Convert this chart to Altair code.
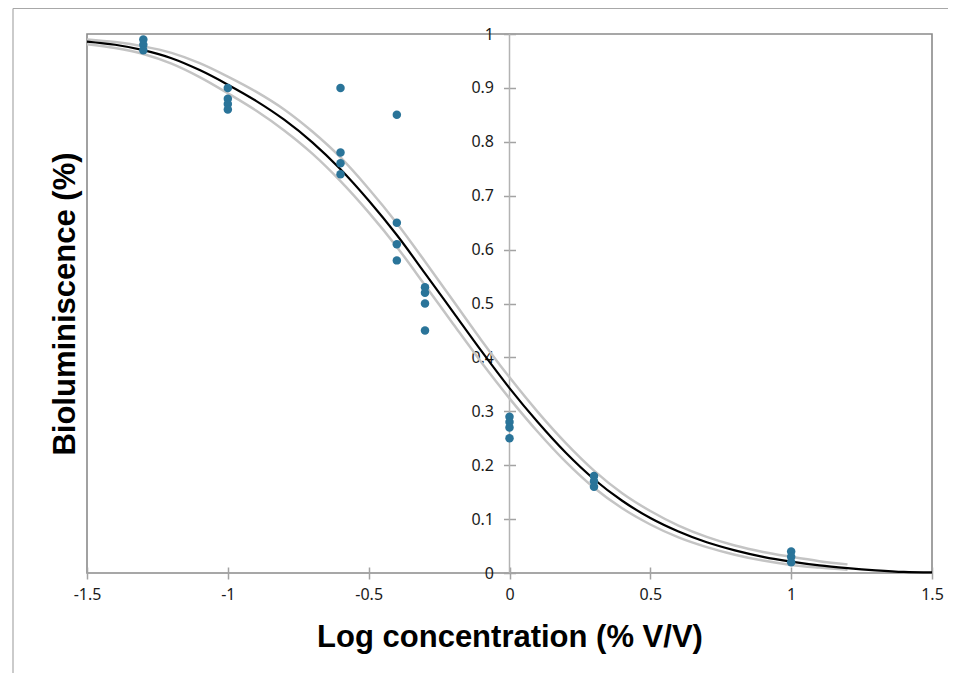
import altair as alt
import pandas as pd

# Observed bioluminescence values (fraction) at each log concentration
obs_x = [-1.3, -1.3, -1.3,
         -1.0, -1.0, -1.0, -1.0,
         -0.6, -0.6, -0.6, -0.6,
         -0.4, -0.4, -0.4, -0.4,
         -0.3, -0.3, -0.3, -0.3,
         0.0, 0.0, 0.0, 0.0,
         0.3, 0.3, 0.3,
         1.0, 1.0, 1.0]
obs_y = [0.99, 0.98, 0.97,
         0.90, 0.88, 0.87, 0.86,
         0.90, 0.78, 0.76, 0.74,
         0.85, 0.65, 0.61, 0.58,
         0.53, 0.52, 0.50, 0.45,
         0.29, 0.28, 0.27, 0.25,
         0.18, 0.17, 0.16,
         0.04, 0.03, 0.02]

# Fitted curve
fit_x = [-1.5, -1.4, -1.3, -1.2, -1.1, -1.0, -0.9, -0.8, -0.7, -0.6, -0.5,
         -0.4, -0.3, -0.2, -0.1, 0.0, 0.1, 0.2, 0.3, 0.4, 0.5,
         0.6, 0.7, 0.8, 0.9, 1.0, 1.1, 1.2, 1.3, 1.4, 1.5]
fit_y = [0.986, 0.980, 0.970, 0.955, 0.933, 0.906, 0.876, 0.841, 0.799, 0.749, 0.691,
         0.627, 0.556, 0.484, 0.412, 0.343, 0.280, 0.223, 0.174, 0.134, 0.102,
         0.077, 0.057, 0.042, 0.030, 0.021, 0.014, 0.009, 0.005, 0.002, 0.001]

# Confidence band curves (grey)
band_x = [-1.5, -1.4, -1.3, -1.2, -1.1, -1.0, -0.9, -0.8, -0.7, -0.6, -0.5,
          -0.4, -0.3, -0.2, -0.1, 0.0, 0.1, 0.2, 0.3, 0.4, 0.5,
          0.6, 0.7, 0.8, 0.9, 1.0, 1.1, 1.2]
upper_y = [0.990, 0.985, 0.977, 0.965, 0.946, 0.921, 0.893, 0.860, 0.819, 0.771, 0.713,
           0.649, 0.578, 0.505, 0.432, 0.363, 0.299, 0.241, 0.190, 0.148, 0.115,
           0.088, 0.067, 0.051, 0.039, 0.030, 0.022, 0.016]
lower_y = [0.981, 0.974, 0.963, 0.945, 0.920, 0.890, 0.858, 0.821, 0.778, 0.727, 0.669,
           0.605, 0.534, 0.462, 0.391, 0.324, 0.262, 0.206, 0.158, 0.120, 0.090,
           0.066, 0.048, 0.034, 0.023, 0.015, 0.010, 0.006]

x_ticks = [-1.5, -1.0, -0.5, 0.0, 0.5, 1.0, 1.5]
y_ticks = [0.0, 0.1, 0.2, 0.3, 0.4, 0.5, 0.6, 0.7, 0.8, 0.9, 1.0]

W, H = 845, 539

obs_df = pd.DataFrame({"x": obs_x, "y": obs_y})
fit_df = pd.DataFrame({"x": fit_x, "y": fit_y})
band_df = pd.concat([
    pd.DataFrame({"x": band_x, "y": upper_y, "s": "upper"}),
    pd.DataFrame({"x": band_x, "y": lower_y, "s": "lower"}),
])
zero_df = pd.DataFrame({"x": [0.0], "y": [0.0], "y2": [1.0]})
one_df = pd.DataFrame({"a": [0]})

xscale = alt.Scale(domain=[-1.5, 1.5], nice=False, zero=False)
yscale = alt.Scale(domain=[0, 1], nice=False, zero=False)

LABEL_FONT = "Noto Sans"
TITLE_FONT = "Liberation Sans"

xaxis = alt.Axis(
    values=x_ticks, labelExpr="'' + datum.value", orient="bottom",
    offset=-6, tickSize=12, tickColor="#a3a3a3", tickWidth=1.5,
    domain=False, grid=False, labelFont=LABEL_FONT, labelFontSize=16,
    labelColor="#1a1a1a", labelPadding=7, labelFlush=False, labelOverlap=False,
    title="Log concentration (% V/V)", titleFont=TITLE_FONT, titleFontSize=31,
    titleFontWeight="bold", titleColor="#000000", titleY=79,
    titleBaseline="alphabetic",
)
yaxis = alt.Axis(
    values=y_ticks, labelExpr="'' + datum.value", orient="left",
    offset=-(W / 2 + 6), tickSize=12, tickColor="#a3a3a3", tickWidth=1.5,
    domain=False, grid=False, labelFont=LABEL_FONT, labelFontSize=16,
    labelColor="#1a1a1a", labelPadding=10, labelFlush=False, labelOverlap=False,
    title="Bioluminiscence (%)", titleFont=TITLE_FONT, titleFontSize=31,
    titleFontWeight="bold", titleColor="#000000",
    titleX=-(W / 2 + 6) - 22, titleY=H / 2, titleAngle=270,
    titleBaseline="middle", titleAlign="center",
)

frame_v = alt.Chart(one_df).mark_rule(color="#a8a8a8", strokeWidth=1.2).encode(
    x=alt.value(-74), y=alt.value(-25.5), y2=alt.value(H + 120))
frame_h = alt.Chart(one_df).mark_rule(color="#a8a8a8", strokeWidth=1.2).encode(
    x=alt.value(-74), x2=alt.value(W + 40), y=alt.value(-25.5))

zero_line = alt.Chart(zero_df).mark_rule(color="#b3b3b3", strokeWidth=1.5).encode(
    x=alt.X("x:Q", scale=xscale, axis=xaxis),
    y=alt.Y("y:Q", scale=yscale, axis=yaxis),
    y2="y2:Q",
)

bands = alt.Chart(band_df).mark_line(
    color="#c4c4c4", strokeWidth=2.5, interpolate="monotone").encode(
    x=alt.X("x:Q", scale=xscale),
    y=alt.Y("y:Q", scale=yscale),
    detail="s:N",
)

fit = alt.Chart(fit_df).mark_line(
    color="#000000", strokeWidth=2.2, interpolate="monotone").encode(
    x=alt.X("x:Q", scale=xscale),
    y=alt.Y("y:Q", scale=yscale),
)

points = alt.Chart(obs_df).mark_circle(
    color="#2a7499", size=72, opacity=1).encode(
    x=alt.X("x:Q", scale=xscale),
    y=alt.Y("y:Q", scale=yscale),
)

chart = alt.layer(frame_v, frame_h, zero_line, bands, fit, points).properties(
    width=W, height=H,
    autosize=alt.AutoSizeParams(type="none"),
    padding={"left": 79, "top": 26, "right": 16, "bottom": 100},
    background="#ffffff",
).configure_view(stroke="#8a8a8a", strokeWidth=1.6)

chart.save("out.html", embed_options={"renderer": "svg", "actions": False})
